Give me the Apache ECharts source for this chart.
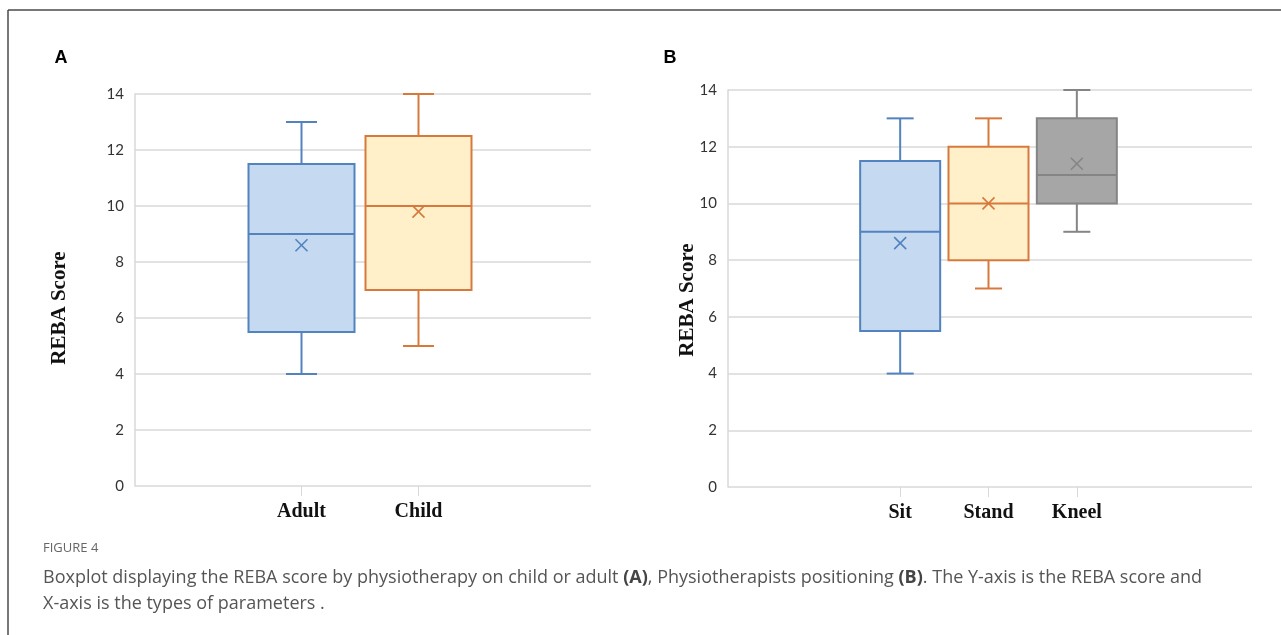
<!DOCTYPE html>
<html>
<head>
<meta charset="utf-8">
<script src="https://cdn.jsdelivr.net/npm/echarts@6/dist/echarts.min.js"></script>
<style>
  html, body { margin: 0; padding: 0; background: #fff; }
  #main { width: 1281px; height: 635px; }
</style>
</head>
<body>
<div id="main"></div>
<script>
// panel A: child vs adult
const catsA = ['Adult', 'Child']
const minA = [4, 5]
const q1A = [5.5, 7]
const medA = [9, 10]
const q3A = [11.5, 12.5]
const maxA = [13, 14]
const meanA = [8.6, 9.8]

// panel B: positioning
const catsB = ['Sit', 'Stand', 'Kneel']
const minB = [4, 7, 9]
const q1B = [5.5, 8, 10]
const medB = [9, 10, 11]
const q3B = [11.5, 12, 13]
const maxB = [13, 13, 14]
const meanB = [8.6, 10, 11.4]

// y axis
const yMin = 0
const yMax = 14
const yStep = 2

const fills = ['#c5d9f1', '#fff0c9', '#a6a6a6']
const strokes = ['#5283bf', '#d7793c', '#858585']
const gridColor = '#d9d9d9'

function toRows(mins, q1s, meds, q3s, maxs, means) {
  return mins.map((v, i) => [i, v, q1s[i], meds[i], q3s[i], maxs[i], means[i]])
}

function boxRenderer(boxW, capW) {
  return function (params, api) {
    const i = api.value(0)
    const x = api.coord([i, 0])[0]
    const y = k => api.coord([i, api.value(k)])[1]
    const yLo = y(1), yQ1 = y(2), yMed = y(3), yQ3 = y(4), yHi = y(5), yMean = y(6)
    const fill = fills[i], stroke = strokes[i]
    const hb = boxW / 2, hc = capW / 2, m = 6
    const ln = (x1, y1, x2, y2, w) => ({
      type: 'line',
      shape: { x1, y1, x2, y2 },
      style: { stroke, lineWidth: w || 2 }
    })
    return {
      type: 'group',
      children: [
        ln(x, yQ3, x, yHi),
        ln(x, yQ1, x, yLo),
        ln(x - hc, yHi, x + hc, yHi),
        ln(x - hc, yLo, x + hc, yLo),
        {
          type: 'rect',
          shape: { x: x - hb, y: yQ3, width: boxW, height: yQ1 - yQ3 },
          style: { fill, stroke, lineWidth: 2 }
        },
        ln(x - hb, yMed, x + hb, yMed),
        ln(x - m, yMean - m, x + m, yMean + m, 1.6),
        ln(x - m, yMean + m, x + m, yMean - m, 1.6)
      ]
    }
  }
}

const chart = echarts.init(document.getElementById('main'))

const yLabel = { color: '#333', fontFamily: 'Lato', fontSize: 15, margin: 11 }
const xLabel = { color: '#111', fontFamily: 'Liberation Serif', fontWeight: 'bold', fontSize: 20, margin: 16 }

function fullY(gridIndex) {
  return {
    type: 'value', gridIndex, min: yMin, max: yMax, interval: yStep,
    axisLine: { show: true, lineStyle: { color: gridColor, width: 1.5 } },
    axisTick: { show: false },
    splitLine: { lineStyle: { color: gridColor, width: 1.5 } },
    axisLabel: yLabel
  }
}
function hiddenY(gridIndex) {
  return { type: 'value', gridIndex, min: yMin, max: yMax, interval: yStep, show: false }
}
function catX(gridIndex, cats) {
  return {
    type: 'category', gridIndex, data: cats,
    axisLine: { show: false },
    axisTick: { show: true, alignWithLabel: true, length: 10, lineStyle: { color: gridColor, width: 1 } },
    axisLabel: xLabel
  }
}

const nameStyle = { fill: '#111', font: 'bold 21px "Liberation Serif"', textAlign: 'center', textVerticalAlign: 'middle' }

const option = {
  backgroundColor: '#fff',
  animation: false,
  grid: [
    { left: 135, top: 94, width: 456, height: 392 },
    { left: 243, top: 94, width: 234, height: 392 },
    { left: 728, top: 90, width: 524, height: 397 },
    { left: 856, top: 90, width: 265, height: 397 }
  ],
  xAxis: [
    { type: 'value', gridIndex: 0, min: 0, max: 1, show: false },
    catX(1, catsA),
    { type: 'value', gridIndex: 2, min: 0, max: 1, show: false },
    catX(3, catsB)
  ],
  yAxis: [fullY(0), hiddenY(1), fullY(2), hiddenY(3)],
  series: [
    {
      type: 'custom', name: 'A', xAxisIndex: 1, yAxisIndex: 1,
      renderItem: boxRenderer(106, 31),
      encode: { x: 0, y: [1, 2, 3, 4, 5, 6] },
      data: toRows(minA, q1A, medA, q3A, maxA, meanA)
    },
    {
      type: 'custom', name: 'B', xAxisIndex: 3, yAxisIndex: 3,
      renderItem: boxRenderer(80, 27),
      encode: { x: 0, y: [1, 2, 3, 4, 5, 6] },
      data: toRows(minB, q1B, medB, q3B, maxB, meanB)
    }
  ],
  graphic: [
    // figure frame (top + left)
    { type: 'line', shape: { x1: 8, y1: 10, x2: 1281, y2: 10 }, style: { stroke: '#4a4a4a', lineWidth: 1.5 } },
    { type: 'line', shape: { x1: 8, y1: 10, x2: 8, y2: 635 }, style: { stroke: '#4a4a4a', lineWidth: 1.5 } },
    { type: 'text', x: 61, y: 58, style: { text: 'A', fill: '#000', font: 'bold 18px "Liberation Sans"', textAlign: 'center', textVerticalAlign: 'middle' } },
    { type: 'text', x: 670, y: 58, style: { text: 'B', fill: '#000', font: 'bold 18px "Liberation Sans"', textAlign: 'center', textVerticalAlign: 'middle' } },
    { type: 'text', x: 60, y: 308, rotation: Math.PI / 2, style: Object.assign({ text: 'REBA Score' }, nameStyle) },
    { type: 'text', x: 688, y: 300, rotation: Math.PI / 2, style: Object.assign({ text: 'REBA Score' }, nameStyle) },
    { type: 'text', x: 43, y: 548, style: { text: 'FIGURE 4', fill: '#666', font: '13px "Open Sans"', textVerticalAlign: 'middle' } },
    {
      type: 'text', x: 43, y: 578,
      style: {
        text: 'Boxplot displaying the REBA score by physiotherapy on child or adult {b|(A)}, Physiotherapists positioning {b|(B)}. The Y-axis is the REBA score and',
        fill: '#555', font: '18px "Open Sans"', textVerticalAlign: 'middle',
        rich: { b: { fontWeight: 'bold', fontFamily: 'Open Sans', fontSize: 18, fill: '#444' } }
      }
    },
    { type: 'text', x: 43, y: 604, style: { text: 'X-axis is the types of parameters .', fill: '#555', font: '18px "Open Sans"', textVerticalAlign: 'middle' } }
  ]
}

chart.setOption(option)
</script>
</body>
</html>
